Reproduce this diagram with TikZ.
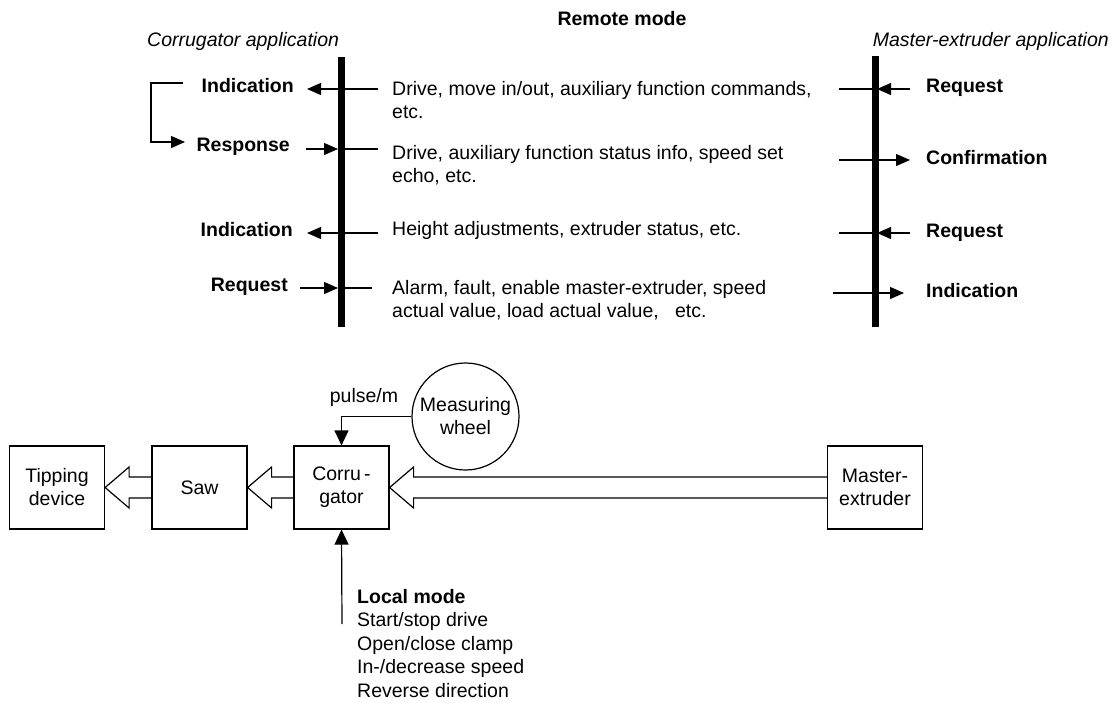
\documentclass[tikz,border=0pt]{standalone}
\usepackage{fontspec}
\setmainfont{Liberation Sans}
\usetikzlibrary{arrows.meta,calc}
\tikzset{
  txt/.style={inner sep=0pt, font=\fontsize{19.5}{23}\selectfont},
  lbl/.style={inner sep=0pt, font=\fontsize{19.5}{23}\selectfont\bfseries},
  itl/.style={inner sep=0pt, font=\fontsize{19.5}{23}\selectfont\itshape},
  box/.style={draw, line width=1.2pt, minimum width=95pt, minimum height=83pt, inner sep=0pt, align=center, font=\fontsize{19.5}{23}\selectfont},
  ln/.style={line width=1.2pt},
  arr/.style={line width=1.2pt, -{Triangle[length=14pt,width=12pt]}},
  arrB/.style={line width=1.2pt, -{Triangle[length=15pt,width=14pt]}},
  lifebar/.style={line width=7pt},
  hollow/.style={line width=1.2pt, line join=miter},
}
\begin{document}
\begin{tikzpicture}[x=1pt,y=-1pt]
\useasboundingbox (0,0) rectangle (1114,702);
% headings
\node[lbl, anchor=base] (remote) at (622,25) {Remote mode};
\node[itl, anchor=base west] (capp) at (147,46) {Corrugator application};
\node[itl, anchor=base east] (mapp) at (1109,46) {Master-extruder application};
% left labels
\node[lbl, anchor=base east] (ind1) at (294,92) {Indication};
\node[lbl, anchor=base east] (resp) at (290,151) {Response};
\node[lbl, anchor=base east] (ind2) at (293,236) {Indication};
\node[lbl, anchor=base east] (req1) at (288,291) {Request};
% middle texts (base anchor = last line)
\node[txt, anchor=base west, align=left] (m1) at (392,118) {Drive, move in/out, auxiliary function commands,\\etc.};
\node[txt, anchor=base west, align=left] (m2) at (392,182) {Drive, auxiliary function status info, speed set\\echo, etc.};
\node[txt, anchor=base west, align=left] (m3) at (392,235) {Height adjustments, extruder status, etc.};
\node[txt, anchor=base west, align=left] (m4) at (392,317) {Alarm, fault, enable master-extruder, speed\\actual value, load actual value,\ \ \ etc.};
% right labels
\node[lbl, anchor=base west] (req2) at (926,92) {Request};
\node[lbl, anchor=base west] (conf) at (926,164) {Confirmation};
\node[lbl, anchor=base west] (req3) at (926,237) {Request};
\node[lbl, anchor=base west] (ind3) at (926,297) {Indication};
% coordinates
\coordinate (lt) at (341,57); \coordinate (lb) at (341,327);
\coordinate (rt) at (875,56); \coordinate (rb) at (875,327);
\coordinate (l1a) at (378,89); \coordinate (l1b) at (307,89);
\coordinate (l2a) at (306,149); \coordinate (l2b) at (338,149); \coordinate (l2c) at (341,149); \coordinate (l2d) at (378,149);
\coordinate (l3a) at (378,233); \coordinate (l3b) at (307,233);
\coordinate (l4a) at (300,288); \coordinate (l4b) at (338,288); \coordinate (l4c) at (341,288); \coordinate (l4d) at (372,288);
\coordinate (br1) at (183,83); \coordinate (br2) at (151,83); \coordinate (br3) at (151,142); \coordinate (br4) at (185,142);
\coordinate (r1a) at (839,89); \coordinate (r1b) at (875,89); \coordinate (r1c) at (910,89); \coordinate (r1d) at (877,89);
\coordinate (r2a) at (839,160); \coordinate (r2b) at (910,160);
\coordinate (r3a) at (839,233); \coordinate (r3b) at (875,233); \coordinate (r3c) at (910,233); \coordinate (r3d) at (877,233);
\coordinate (r4a) at (833,293); \coordinate (r4b) at (904,293);
% left arrows
\draw[arr] (l1a) -- (l1b);
\draw[arr] (l2a) -- (l2b); \draw[ln] (l2c) -- (l2d);
\draw[arr] (l3a) -- (l3b);
\draw[arr] (l4a) -- (l4b); \draw[ln] (l4c) -- (l4d);
\draw[arr] (br1) -- (br2) -- (br3) -- (br4);
% right arrows
\draw[ln] (r1a) -- (r1b); \draw[arr] (r1c) -- (r1d);
\draw[arr] (r2a) -- (r2b);
\draw[ln] (r3a) -- (r3b); \draw[arr] (r3c) -- (r3d);
\draw[arr] (r4a) -- (r4b);
% bars
\draw[lifebar] (lt) -- (lb);
\draw[lifebar] (rt) -- (rb);
% bottom blocks
\node[box] (tip) at (57,487.5) {Tipping\\device};
\node[box] (saw) at (199.5,487.5) {Saw};
\node[box] (corr) at (341.5,487.5) {Corru\,-\\gator};
\node[box] (mast) at (875,487.5) {Master-\\extruder};
\node[draw, circle, line width=1.2pt, minimum size=107pt, inner sep=0pt, align=center, font=\fontsize{19.5}{23}\selectfont] (wheel) at (465.5,416.5) {Measuring\\wheel};
\node[txt, anchor=base] (pulse) at (364,402) {pulse/m};
\draw[arrB] (wheel.west) -| (corr.north);
\coordinate (lm) at (342,624);
\draw[arrB] (lm) -- (corr.south);
\node[anchor=base west, align=left, inner sep=0pt, font=\fontsize{19.5}{23.5}\selectfont] (local) at (357,697) {\textbf{Local mode}\\Start/stop drive\\Open/close clamp\\In-/decrease speed\\Reverse direction};
% hollow arrows
\draw[hollow] ($(saw.west)+(0,-10.5)$) -- ($(tip.east)+(24,-10.5)$) -- ++(0,-10) -- (tip.east) -- ++(24,20.5) -- ++(0,-10) -- ($(saw.west)+(0,10.5)$);
\draw[hollow] ($(corr.west)+(0,-10.5)$) -- ($(saw.east)+(24,-10.5)$) -- ++(0,-10) -- (saw.east) -- ++(24,20.5) -- ++(0,-10) -- ($(corr.west)+(0,10.5)$);
\draw[hollow] ($(mast.west)+(0,-10.5)$) -- ($(corr.east)+(24,-10.5)$) -- ++(0,-10) -- (corr.east) -- ++(24,20.5) -- ++(0,-10) -- ($(mast.west)+(0,10.5)$);
\end{tikzpicture}
\end{document}
